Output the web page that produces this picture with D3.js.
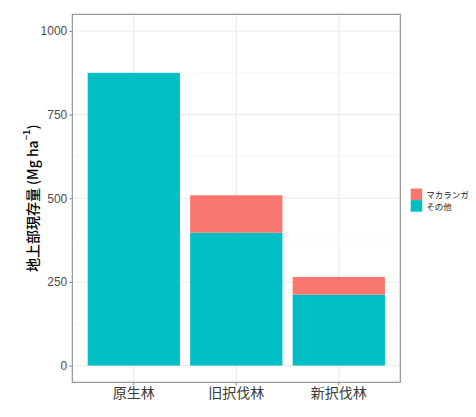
<!DOCTYPE html>
<html><head><meta charset="utf-8">
<script src="https://cdn.jsdelivr.net/npm/d3@7"></script>
<style>body{margin:0;background:#fff;}</style>
</head><body>
<svg id="chart" width="476" height="417"></svg>
<script>
const categories = ["原生林", "旧択伐林", "新択伐林"];
const seriesNames = ["その他", "マカランガ"];
const sonota = [875, 397, 212];
const macaranga = [0, 112, 53];
const yTicks = [0, 250, 500, 750, 1000];
const yMinor = [125, 375, 625, 875];
const legendLabels = ["マカランガ", "その他"];
const colors = {"マカランガ": "#F8766D", "その他": "#00BFC4"};

const svg = d3.select("#chart");
const P = {l: 72.3, r: 400.3, t: 14.3, b: 382.3};
const x = d3.scaleBand().domain(categories).range([P.l, P.r]).paddingInner(0.1).paddingOuter(0.15);
const y = d3.scaleLinear().domain([-50, 1050]).range([P.b, P.t]);

const jp = "'Noto Sans CJK JP', 'Noto Sans', sans-serif";
const lat = "'Liberation Sans', Arial, sans-serif";

svg.append("rect").attr("x", P.l).attr("y", P.t).attr("width", P.r - P.l).attr("height", P.b - P.t).attr("fill", "#fff");

const g = svg.append("g");
yMinor.forEach(v => g.append("line").attr("x1", P.l).attr("x2", P.r).attr("y1", y(v)).attr("y2", y(v)).attr("stroke", "#F2F2F2").attr("stroke-width", 0.6));
yTicks.forEach(v => g.append("line").attr("x1", P.l).attr("x2", P.r).attr("y1", y(v)).attr("y2", y(v)).attr("stroke", "#EBEBEB").attr("stroke-width", 1.1));
categories.forEach(c => g.append("line").attr("x1", x(c) + x.bandwidth()/2).attr("x2", x(c) + x.bandwidth()/2).attr("y1", P.t).attr("y2", P.b).attr("stroke", "#EBEBEB").attr("stroke-width", 1.1));

const rows = categories.map((c, i) => ({cat: c, "その他": sonota[i], "マカランガ": macaranga[i]}));
const stack = d3.stack().keys(seriesNames)(rows);
svg.append("g").selectAll("g").data(stack).join("g")
  .attr("fill", d => colors[d.key])
  .selectAll("rect").data(d => d.filter(p => p[1] - p[0] > 0)).join("rect")
  .attr("x", d => x(d.data.cat))
  .attr("width", x.bandwidth())
  .attr("y", d => y(d[1]))
  .attr("height", d => y(d[0]) - y(d[1]));

svg.append("rect").attr("x", P.l).attr("y", P.t).attr("width", P.r - P.l).attr("height", P.b - P.t)
  .attr("fill", "none").attr("stroke", "#8A8A8A").attr("stroke-width", 1.1);

const ya = svg.append("g").attr("transform", `translate(${P.l},0)`)
  .call(d3.axisLeft(y).tickValues(yTicks).tickSize(3).tickPadding(2).tickFormat(d3.format("d")));
ya.select(".domain").remove();
ya.selectAll(".tick line").attr("stroke", "#8A8A8A");
ya.selectAll(".tick text").attr("fill", "#4D4D4D").attr("font-family", lat).attr("font-size", "12px");

const xa = svg.append("g").attr("transform", `translate(0,${P.b})`)
  .call(d3.axisBottom(x).tickSize(3).tickPadding(3));
xa.select(".domain").remove();
xa.selectAll(".tick line").attr("stroke", "#8A8A8A");
xa.selectAll(".tick text").attr("fill", "#3A3A3A").attr("font-family", jp).attr("font-size", "14px")
  .attr("dy", null).attr("y", 10).attr("dominant-baseline", "central");

const t = svg.append("text").attr("transform", `translate(32,${(P.t + P.b)/2}) rotate(-90)`)
  .attr("text-anchor", "middle").attr("dominant-baseline", "central")
  .attr("font-family", jp).attr("font-size", "14px").attr("font-weight", 500).attr("fill", "#000");
t.append("tspan").text("地上部現存量 (Mg ha");
t.append("tspan").attr("font-size", "9.5px").attr("dy", -6).text("−1");
t.append("tspan").attr("dy", 6).text(")");

const kh = 11.6;
const lg = svg.append("g").attr("transform", "translate(410.7,188.5)");
legendLabels.forEach((k, i) => {
  lg.append("rect").attr("x", 0).attr("y", i * kh).attr("width", 11.5).attr("height", kh).attr("fill", colors[k]);
  lg.append("text").attr("x", 15.5).attr("y", i * kh + kh / 2).attr("dominant-baseline", "central")
    .attr("font-family", jp).attr("font-size", "8.5px").attr("fill", "#1A1A1A").text(k);
});
</script>
</body></html>
